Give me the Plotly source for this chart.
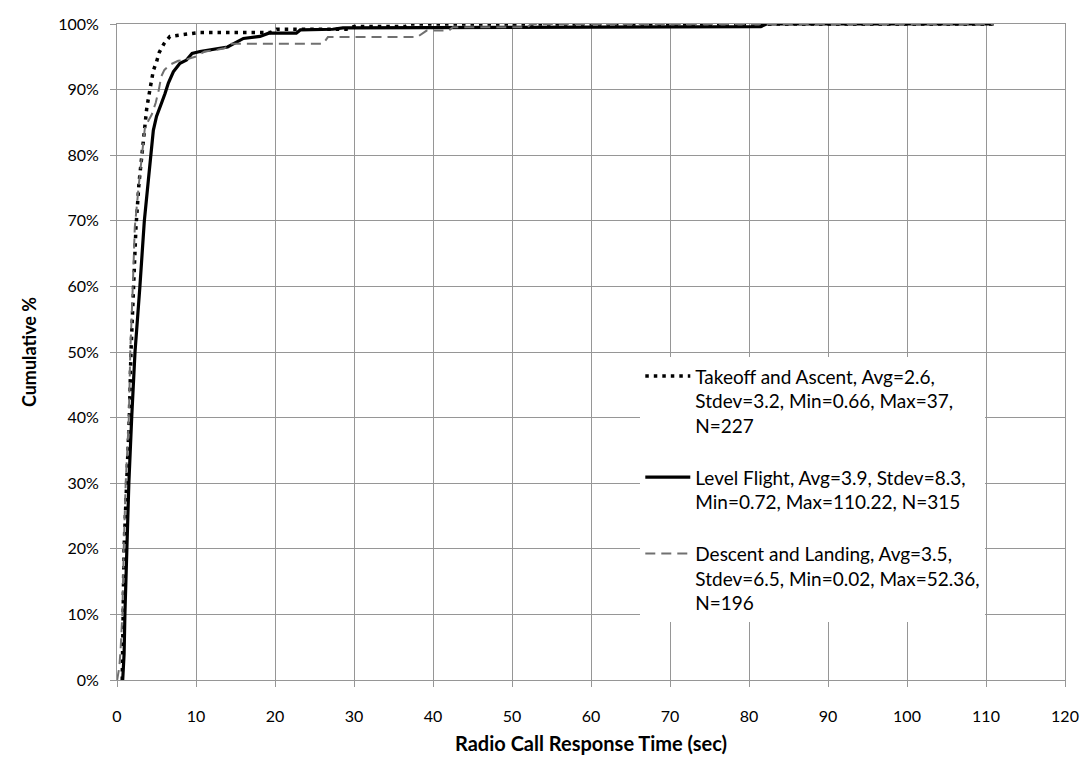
import plotly.graph_objects as go

# Data
takeoff_x = [0.66, 0.72, 0.8, 0.89, 1.22, 1.56, 1.77, 2.07, 2.4, 2.78, 3.12, 3.54, 3.76, 4.18, 4.6, 5.02, 5.36, 5.95, 6.7, 7.9, 9.1, 10.3, 19.4, 20.2, 29.0, 30.0, 36.5, 37.0, 111.0]
takeoff_y = [0, 4, 10, 20, 30, 40, 50, 60, 69, 75.7, 79.8, 84.3, 87.1, 90.1, 92.9, 94.3, 95.7, 97.0, 98.1, 98.3, 98.5, 98.7, 98.7, 99.2, 99.2, 99.6, 99.6, 100, 100]

level_x = [0.72, 0.9, 1.0, 1.2, 1.5, 1.86, 2.28, 2.9, 3.46, 3.97, 4.3, 4.6, 5.0, 5.3, 5.65, 6.08, 6.5, 7.13, 7.97, 8.8, 9.5, 10.5, 11.8, 13.0, 14.0, 14.7, 16.0, 18.1, 19.2, 22.7, 23.2, 27.3, 28.6, 81.5, 82.2, 111.0]
level_y = [0, 4, 10, 20, 30, 40, 50, 60, 70, 76.2, 80.0, 83.8, 85.9, 87.0, 88.0, 89.4, 91.0, 92.7, 94.0, 94.5, 95.5, 95.8, 96.0, 96.3, 96.5, 97.0, 97.8, 98.1, 98.6, 98.6, 99.1, 99.2, 99.4, 99.6, 100, 100]

descent_x = [0.02, 0.3, 0.47, 0.68, 0.85, 1.1, 1.5, 1.68, 2.0, 2.25, 2.78, 3.12, 3.54, 4.4, 4.9, 5.3, 5.6, 6.0, 6.7, 7.76, 8.8, 9.9, 11.1, 12.8, 13.6, 14.3, 26.1, 26.7, 38.0, 39.2, 42.0, 42.5, 52.0, 52.36, 111.0]
descent_y = [0, 2, 5, 10, 20, 30, 40, 50, 60, 69, 75.7, 79.8, 84.3, 86.2, 88.0, 90.0, 92.0, 93.0, 93.8, 94.4, 94.6, 95.0, 95.8, 96.1, 96.3, 97.0, 97.0, 98.0, 98.0, 99.0, 99.0, 99.5, 99.5, 100, 100]

names = [
    "Takeoff and Ascent, Avg=2.6,<br>Stdev=3.2, Min=0.66, Max=37,<br>N=227",
    "Level Flight, Avg=3.9, Stdev=8.3,<br>Min=0.72, Max=110.22, N=315",
    "Descent and Landing, Avg=3.5,<br>Stdev=6.5, Min=0.02, Max=52.36,<br>N=196",
]

x_ticks = list(range(0, 121, 10))
y_ticks = list(range(0, 101, 10))
y_tick_labels = [f"{v}%" for v in y_ticks]

FONT = "Lato, 'Open Sans', sans-serif"
GRID = "#969696"

fig = go.Figure()
fig.add_trace(go.Scatter(x=takeoff_x, y=takeoff_y, mode="lines", name=names[0],
                         line=dict(color="black", width=3.5, dash="3.5px,5px"), legendgroup="a"))
fig.add_trace(go.Scatter(x=level_x, y=level_y, mode="lines", name=names[1],
                         line=dict(color="black", width=3.2), legendgroup="b"))
fig.add_trace(go.Scatter(x=descent_x, y=descent_y, mode="lines", name=names[2],
                         line=dict(color="#707070", width=2, dash="10px,6px"), legendgroup="c"))

fig.update_layout(
    width=1084, height=764,
    margin=dict(l=117, r=19, t=24, b=84),
    paper_bgcolor="white", plot_bgcolor="white",
    font=dict(family=FONT, size=16, color="black"),
    showlegend=True,
    legend=dict(
        x=0.552, y=0.492, xanchor="left", yanchor="top",
        bgcolor="white", borderwidth=0,
        font=dict(family=FONT, size=19, color="black"),
        itemwidth=45, tracegroupgap=24, valign="top",
        traceorder="grouped",
    ),
)
fig.update_xaxes(
    range=[0, 120], tickvals=x_ticks, showgrid=True, gridcolor=GRID, gridwidth=1,
    showline=True, linecolor=GRID, linewidth=1, mirror=True,
    ticks="outside", ticklen=6, tickcolor=GRID, ticklabelstandoff=16,
    zeroline=False, tickfont=dict(size=16), automargin=False,
    title=dict(text="<b>Radio Call Response Time (sec)</b>", font=dict(size=20), standoff=12),
)
fig.update_yaxes(
    range=[0, 100], tickvals=y_ticks, ticktext=y_tick_labels, showgrid=True,
    gridcolor=GRID, gridwidth=1,
    showline=True, linecolor=GRID, linewidth=1, mirror=True,
    ticks="outside", ticklen=6, tickcolor=GRID, ticklabelstandoff=8,
    zeroline=False, tickfont=dict(size=16), automargin=False,
    title=dict(text="<b>Cumulative %</b>", font=dict(size=18), standoff=16),
)

fig.write_html("out.html", config={"displayModeBar": False},
               post_script="document.body.style.margin='0';")
